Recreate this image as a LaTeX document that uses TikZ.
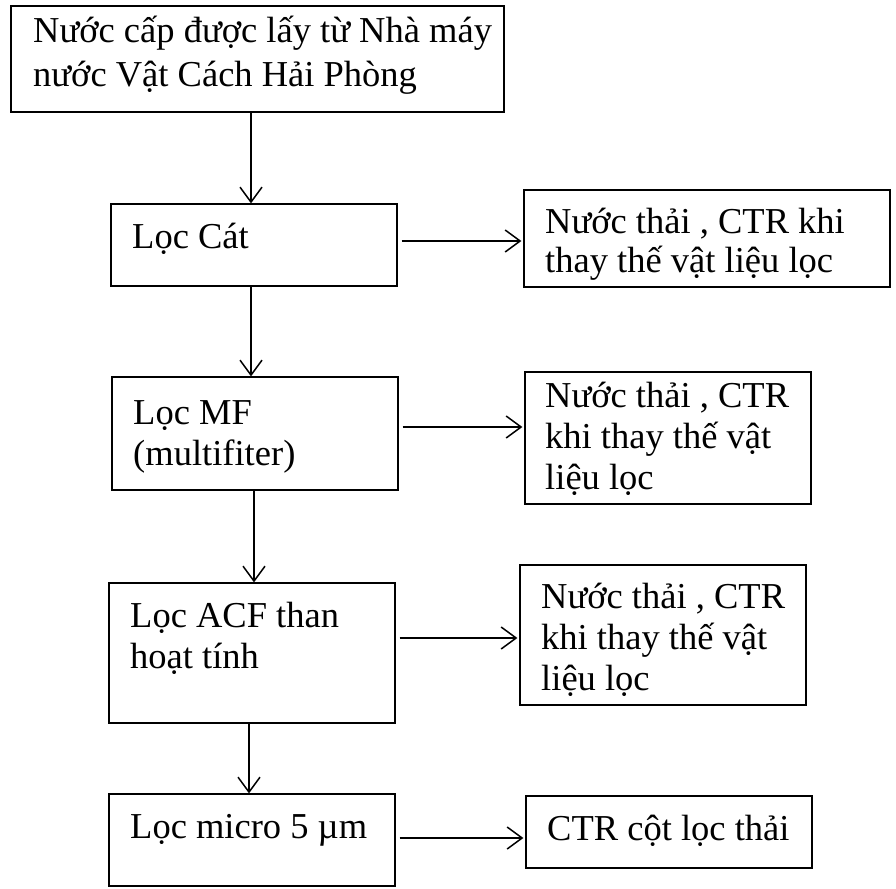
\documentclass[tikz,border=0pt]{standalone}
\usepackage{fontspec}
\setmainfont{Liberation Serif}
\usetikzlibrary{arrows.meta}
\begin{document}
\begin{tikzpicture}[x=1pt,y=-1pt,
  box/.style={draw, line width=1.2pt, rectangle, inner sep=0pt},
  % labels are placed by the baseline of their last line
  lbl/.style={anchor=base west, inner sep=0pt, align=left,
              font=\fontsize{36.5}{41}\selectfont},
  arr/.style={-{Straight Barb[length=15pt,width=22pt]}, line width=1.5pt},
  side/.style={arr, shorten <=4pt, shorten >=2pt}]
\useasboundingbox (0,0) rectangle (896,888);

% main process column
\node[box, minimum width=493pt, minimum height=106pt] (src)   at (257.5,59)  {};
\node[box, minimum width=286pt, minimum height=82pt]  (sand)  at (254,245)   {};
\node[box, minimum width=286pt, minimum height=113pt] (mf)    at (255,433.5) {};
\node[box, minimum width=286pt, minimum height=140pt] (acf)   at (252,653)   {};
\node[box, minimum width=286pt, minimum height=92pt]  (micro) at (252,840)   {};

% waste outputs
\node[box, minimum width=366pt, minimum height=97pt]  (w1) at (707,238.5) {};
\node[box, minimum width=286pt, minimum height=132pt] (w2) at (668,438)   {};
\node[box, minimum width=286pt, minimum height=140pt] (w3) at (663,635)   {};
\node[box, minimum width=286pt, minimum height=72pt]  (w4) at (669,832)   {};

% labels
\node[lbl, font=\fontsize{36.5}{44}\selectfont] (srcT) at (33,87)
  {Nước cấp được lấy từ Nhà máy\\nước Vật Cách Hải Phòng};
\node[lbl] (sandT)  at (132,248) {Lọc Cát};
\node[lbl] (mfT)    at (133,465) {Lọc MF\\(multifiter)};
\node[lbl] (acfT)   at (130,668) {Lọc ACF than\\hoạt tính};
\node[lbl] (microT) at (130,838) {Lọc micro 5 µm};

\node[lbl, font=\fontsize{36.5}{39}\selectfont] (w1T) at (545,272)
  {Nước thải , CTR khi\\thay thế vật liệu lọc};
\node[lbl] (w2T) at (545,489) {Nước thải , CTR\\khi thay thế vật\\liệu lọc};
\node[lbl] (w3T) at (541,690) {Nước thải , CTR\\khi thay thế vật\\liệu lọc};
\node[lbl] (w4T) at (547,840) {CTR cột lọc thải};

% flow down the column
\draw[arr] (src.south -| 251,0)  -- (sand.north -| 251,0);
\draw[arr] (sand.south -| 251,0) -- (mf.north -| 251,0);
\draw[arr] (mf.south -| 254,0)   -- (acf.north -| 254,0);
\draw[arr] (acf.south -| 249,0)  -- (micro.north -| 249,0);

% side streams
\draw[side] (sand.east |- 0,241)  -- (w1.west |- 0,241);
\draw[side] (mf.east |- 0,427)    -- (w2.west |- 0,427);
\draw[side] (acf.east |- 0,638)   -- (w3.west |- 0,638);
\draw[side] (micro.east |- 0,838) -- (w4.west |- 0,838);
\end{tikzpicture}
\end{document}
